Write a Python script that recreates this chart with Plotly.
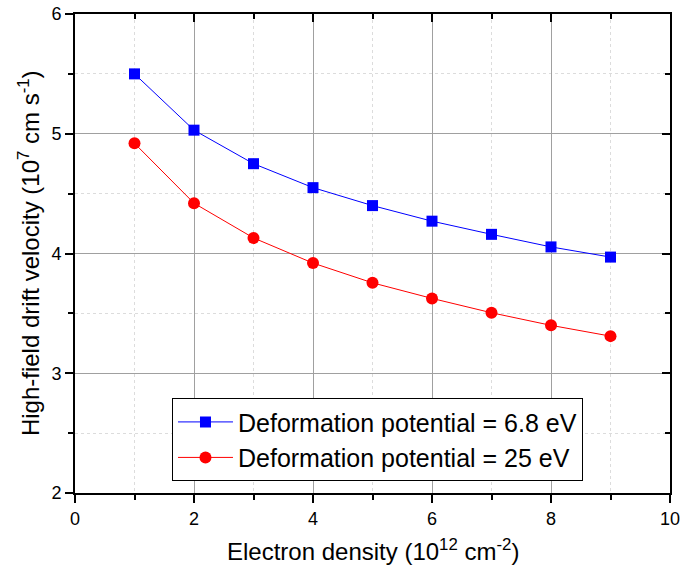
import plotly.graph_objects as go

density = [1, 2, 3, 4, 5, 6, 7, 8, 9]
v_68 = [5.50, 5.03, 4.75, 4.55, 4.40, 4.27, 4.16, 4.055, 3.97]
v_25 = [4.92, 4.42, 4.13, 3.92, 3.755, 3.625, 3.505, 3.40, 3.31]
x_ticks = [0, 2, 4, 6, 8, 10]
y_ticks = [2, 3, 4, 5, 6]

FONT = "Liberation Sans, Arial, sans-serif"

fig = go.Figure()
fig.add_trace(go.Scatter(x=density, y=v_68, mode="lines+markers",
                         name="Deformation potential = 6.8 eV",
                         line=dict(color="#0000ff", width=1),
                         marker=dict(symbol="square", size=11, color="#0000ff")))
fig.add_trace(go.Scatter(x=density, y=v_25, mode="lines+markers",
                         name="Deformation potential = 25 eV",
                         line=dict(color="#ff0000", width=1),
                         marker=dict(symbol="circle", size=12, color="#ff0000")))
# helper trace for mirrored (inside) ticks on top/right
fig.add_trace(go.Scatter(x=density, y=v_68, xaxis="x2", yaxis="y2", mode="markers",
                         marker=dict(opacity=0), showlegend=False, hoverinfo="skip"))

common = dict(showline=True, linecolor="black", linewidth=2, zeroline=False, automargin=False,
              tickfont=dict(size=18, family=FONT, color="black"))

fig.update_layout(
    width=696, height=575,
    margin=dict(l=75, r=26, t=14, b=82),
    paper_bgcolor="white", plot_bgcolor="white",
    font=dict(family=FONT, color="black"),
    xaxis=dict(range=[0, 10], tickvals=x_ticks, ticks="outside", ticklen=8, tickwidth=2,
               tickcolor="black", mirror=True, showgrid=True, gridcolor="#a0a0a0", gridwidth=1,
               minor=dict(dtick=1, ticks="outside", ticklen=5, tickwidth=2, tickcolor="black",
                          showgrid=True, gridcolor="#dcdcdc", griddash="dot", gridwidth=1),
               **common),
    yaxis=dict(range=[2, 6], tickvals=y_ticks, ticks="outside", ticklen=8, tickwidth=2,
               tickcolor="black", mirror=True, showgrid=True, gridcolor="#a0a0a0", gridwidth=1,
               minor=dict(dtick=0.5, ticks="outside", ticklen=5, tickwidth=2, tickcolor="black",
                          showgrid=True, gridcolor="#dcdcdc", griddash="dot", gridwidth=1),
               **common),
    xaxis2=dict(range=[0, 10], overlaying="x", side="top", tickvals=x_ticks, ticks="inside",
                ticklen=8, tickwidth=2, tickcolor="black", showticklabels=False, showgrid=False,
                zeroline=False, automargin=False,
                minor=dict(dtick=1, ticks="inside", ticklen=5, tickwidth=2,
                           tickcolor="black", showgrid=False)),
    yaxis2=dict(range=[2, 6], overlaying="y", side="right", tickvals=y_ticks, ticks="inside",
                ticklen=8, tickwidth=2, tickcolor="black", showticklabels=False, showgrid=False,
                zeroline=False, automargin=False,
                minor=dict(dtick=0.5, ticks="inside", ticklen=5, tickwidth=2,
                           tickcolor="black", showgrid=False)),
    legend=dict(x=0.163, y=0.198, xanchor="left", yanchor="top",
                bgcolor="white", bordercolor="black", borderwidth=1,
                font=dict(size=25, family=FONT, color="black"),
                tracegroupgap=0, itemwidth=55),
    showlegend=True,
    annotations=[
        dict(text="Electron density (10<sup>12</sup> cm<sup>-2</sup>)", xref="paper", yref="paper",
             x=0.5, y=-0.12, xanchor="center", yanchor="middle", showarrow=False,
             font=dict(size=24, family=FONT, color="black")),
        dict(text="High-field drift velocity (10<sup>7</sup> cm s<sup>-1</sup>)", xref="paper",
             yref="paper", x=-0.078, y=0.5, xanchor="center", yanchor="middle", textangle=-90,
             showarrow=False, font=dict(size=24, family=FONT, color="black")),
    ],
)

fig.write_html("out.html")
